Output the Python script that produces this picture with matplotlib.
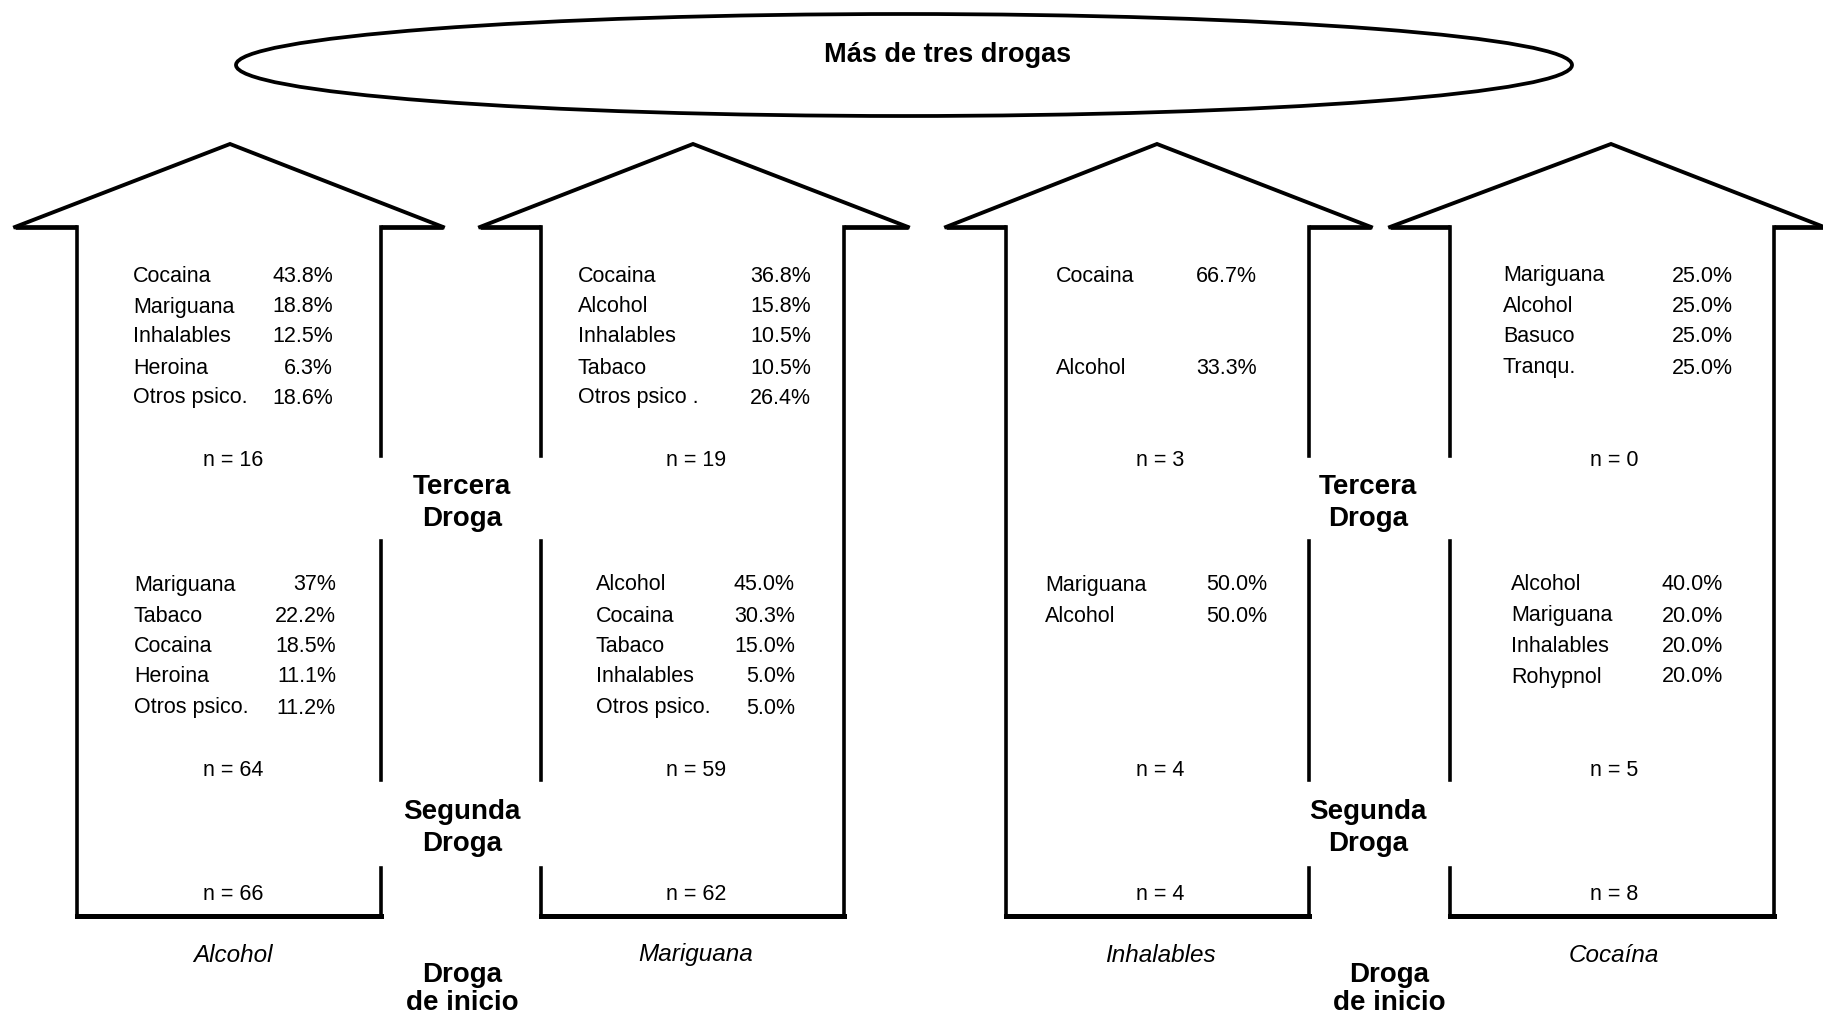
import matplotlib.pyplot as plt
from matplotlib.patches import Ellipse

plt.rcParams["font.family"] = ["Liberation Sans", "DejaVu Sans"]

# =====================
# Datos
# =====================
droga_inicio = ["Alcohol", "Mariguana", "Inhalables", "Cocaína"]
n_inicio = [66, 62, 4, 8]

segunda_drogas = [
    ["Mariguana", "Tabaco", "Cocaina", "Heroina", "Otros psico."],
    ["Alcohol", "Cocaina", "Tabaco", "Inhalables", "Otros psico."],
    ["Mariguana", "Alcohol"],
    ["Alcohol", "Mariguana", "Inhalables", "Rohypnol"],
]
segunda_pct = [
    ["37%", "22.2%", "18.5%", "11.1%", "11.2%"],
    ["45.0%", "30.3%", "15.0%", "5.0%", "5.0%"],
    ["50.0%", "50.0%"],
    ["40.0%", "20.0%", "20.0%", "20.0%"],
]
n_segunda = [64, 59, 4, 5]

tercera_drogas = [
    ["Cocaina", "Mariguana", "Inhalables", "Heroina", "Otros psico."],
    ["Cocaina", "Alcohol", "Inhalables", "Tabaco", "Otros psico ."],
    ["Cocaina", "", "", "Alcohol"],
    ["Mariguana", "Alcohol", "Basuco", "Tranqu."],
]
tercera_pct = [
    ["43.8%", "18.8%", "12.5%", "6.3%", "18.6%"],
    ["36.8%", "15.8%", "10.5%", "10.5%", "26.4%"],
    ["66.7%", "", "", "33.3%"],
    ["25.0%", "25.0%", "25.0%", "25.0%"],
]
n_tercera = [16, 19, 3, 0]

# =====================
# Geometria de las flechas (pixeles)
# =====================
apex_x = [230, 693, 1157, 1611]
tip_l = [15, 480, 946, 1390]
tip_r = [443, 908, 1371, 1824]
shaft_l = [77, 541, 1006, 1450]
shaft_r = [381, 844, 1309, 1774]
gap_side = ["r", "l", "r", "l"]
col_l_up = [133, 578, 1056, 1503]
col_r_up = [333, 811, 1257, 1733]
col_l_lo = [134, 596, 1045, 1511]
col_r_lo = [336, 795, 1267, 1723]

y_base, y_apex, y_bottom = 227, 144, 916
gaps = [(227, 456), (541, 780), (868, 916)]
rows_up = [276, 307, 337, 368, 398]
rows_lo = [585, 616, 647, 677, 708]

fig = plt.figure(figsize=(18.24, 10.16), dpi=100)
ax = fig.add_axes([0, 0, 1, 1])
ax.set_xlim(0, 1824)
ax.set_ylim(1016, 0)
ax.axis("off")

# elipse de arriba
ax.add_patch(Ellipse((904, 65), 1336, 102, fill=False, lw=2.7, color="black"))
ax.text(948, 55, "Más de tres drogas", fontsize=19.5, fontweight="bold",
        ha="center", va="center")

for i in range(4):
    k = "black"
    ax.plot([tip_l[i], apex_x[i], tip_r[i]], [y_base, y_apex, y_base], color=k, lw=2.8,
            solid_joinstyle="miter")
    ax.plot([tip_l[i], shaft_l[i]], [y_base, y_base], color=k, lw=3.4, solid_capstyle="butt")
    ax.plot([shaft_r[i], tip_r[i]], [y_base, y_base], color=k, lw=3.4, solid_capstyle="butt")
    ax.plot([shaft_l[i], shaft_r[i]], [y_bottom, y_bottom], color=k, lw=3.6,
            solid_capstyle="projecting")
    if gap_side[i] == "r":
        solid_x, gap_x = shaft_l[i], shaft_r[i]
    else:
        solid_x, gap_x = shaft_r[i], shaft_l[i]
    ax.plot([solid_x, solid_x], [y_base, y_bottom], color=k, lw=2.6)
    for y0, y1 in gaps:
        ax.plot([gap_x, gap_x], [y0, y1], color=k, lw=2.6)

    # tercera droga
    for j, (lab, pct) in enumerate(zip(tercera_drogas[i], tercera_pct[i])):
        ax.text(col_l_up[i], rows_up[j], lab, fontsize=15.5, ha="left", va="center")
        ax.text(col_r_up[i], rows_up[j], pct, fontsize=15.5, ha="right", va="center")
    ax.text(apex_x[i] + 3, 460, f"n = {n_tercera[i]}", fontsize=15.5, ha="center", va="center")

    # segunda droga
    for j, (lab, pct) in enumerate(zip(segunda_drogas[i], segunda_pct[i])):
        ax.text(col_l_lo[i], rows_lo[j], lab, fontsize=15.5, ha="left", va="center")
        ax.text(col_r_lo[i], rows_lo[j], pct, fontsize=15.5, ha="right", va="center")
    ax.text(apex_x[i] + 3, 771, f"n = {n_segunda[i]}", fontsize=15.5, ha="center", va="center")

    # droga de inicio
    ax.text(apex_x[i] + 3, 894, f"n = {n_inicio[i]}", fontsize=15.5, ha="center", va="center")
    ax.text(apex_x[i] + 3, 955, droga_inicio[i], fontsize=17.5, style="italic",
            ha="center", va="center")

# etiquetas entre flechas
for cx, cx2 in [(462, 462), (1368, 1389)]:
    ax.text(cx, 487, "Tercera", fontsize=20, fontweight="bold", ha="center", va="center")
    ax.text(cx, 519, "Droga", fontsize=20, fontweight="bold", ha="center", va="center")
    ax.text(cx, 812, "Segunda", fontsize=20, fontweight="bold", ha="center", va="center")
    ax.text(cx, 844, "Droga", fontsize=20, fontweight="bold", ha="center", va="center")
    ax.text(cx2, 975, "Droga", fontsize=20, fontweight="bold", ha="center", va="center")
    ax.text(cx2, 1003, "de inicio", fontsize=20, fontweight="bold", ha="center", va="center")

plt.savefig("out.png", dpi=100)
